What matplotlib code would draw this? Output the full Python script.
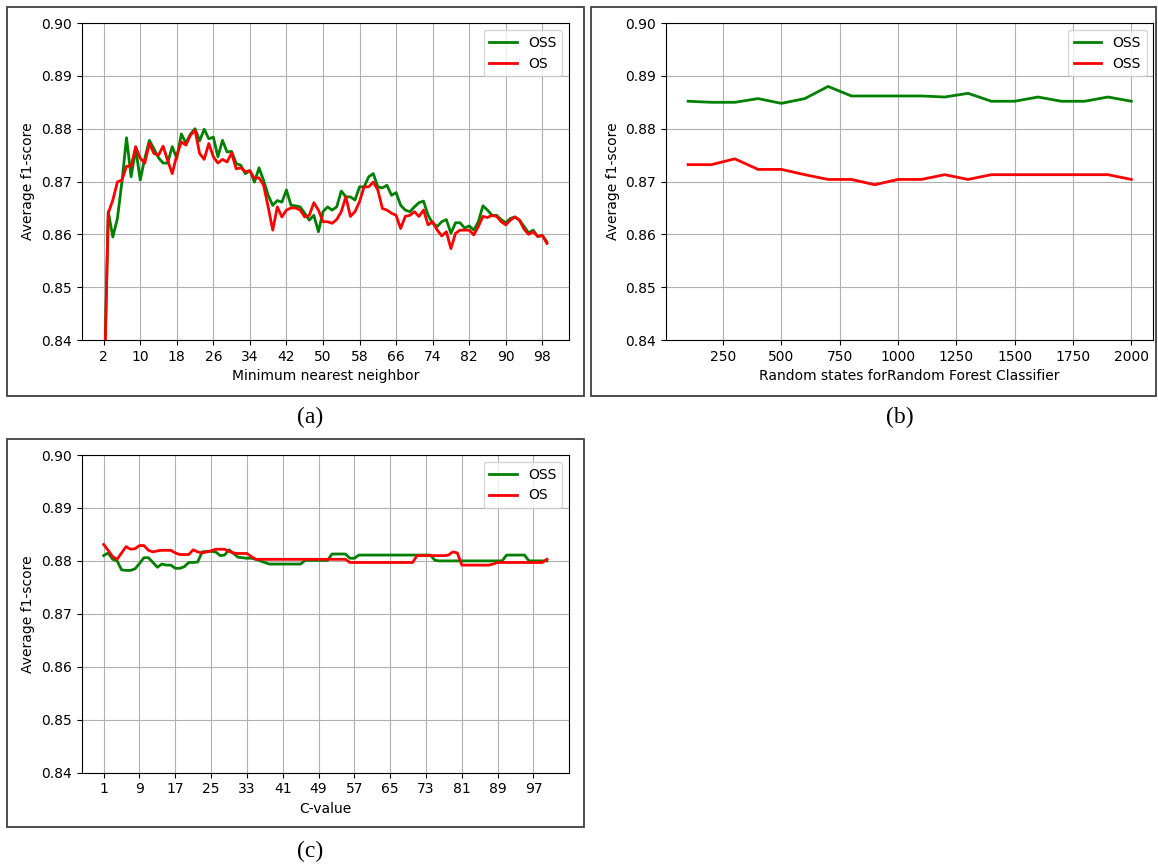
import matplotlib
matplotlib.use("Agg")
import matplotlib.pyplot as plt
from matplotlib.patches import Rectangle

# (a) minimum nearest neighbour
knn_x = list(range(2, 100))
knn_oss = [0.828, 0.8643, 0.8595, 0.8630, 0.8700, 0.8783, 0.8709, 0.8762, 0.8703, 0.8744,
           0.8778, 0.8762, 0.8745, 0.8735, 0.8735, 0.8766, 0.8744, 0.8790, 0.8773, 0.8790,
           0.8800, 0.8777, 0.8799, 0.8781, 0.8784, 0.8747, 0.8778, 0.8756, 0.8757, 0.8734,
           0.8731, 0.8715, 0.8721, 0.8699, 0.8726, 0.8702, 0.8674, 0.8655, 0.8664, 0.8661,
           0.8684, 0.8655, 0.8654, 0.8652, 0.8640, 0.8627, 0.8636, 0.8605, 0.8643, 0.8652,
           0.8646, 0.8652, 0.8682, 0.8671, 0.8671, 0.8665, 0.8690, 0.8690, 0.8709, 0.8715,
           0.8690, 0.8688, 0.8693, 0.8674, 0.8679, 0.8655, 0.8646, 0.8643, 0.8652, 0.8660,
           0.8663, 0.8636, 0.8621, 0.8615, 0.8624, 0.8628, 0.8602, 0.8622, 0.8622, 0.8612,
           0.8616, 0.8608, 0.8624, 0.8654, 0.8646, 0.8636, 0.8636, 0.8628, 0.8622, 0.8630,
           0.8633, 0.8627, 0.8615, 0.8603, 0.8608, 0.8596, 0.8598, 0.8586]
knn_os = [0.826, 0.8640, 0.8665, 0.8699, 0.8703, 0.8729, 0.8729, 0.8766, 0.8744, 0.8735,
          0.8772, 0.8753, 0.8750, 0.8767, 0.8740, 0.8715, 0.8750, 0.8775, 0.8769, 0.8788,
          0.8797, 0.8753, 0.8742, 0.8772, 0.8747, 0.8735, 0.8742, 0.8737, 0.8754, 0.8724,
          0.8726, 0.8719, 0.8720, 0.8706, 0.8707, 0.8693, 0.8652, 0.8608, 0.8652, 0.8633,
          0.8646, 0.8650, 0.8650, 0.8646, 0.8633, 0.8636, 0.8660, 0.8646, 0.8624, 0.8624,
          0.8621, 0.8628, 0.8643, 0.8671, 0.8634, 0.8643, 0.8662, 0.8690, 0.8690, 0.8699,
          0.8684, 0.8649, 0.8646, 0.8640, 0.8636, 0.8611, 0.8634, 0.8636, 0.8643, 0.8634,
          0.8646, 0.8618, 0.8624, 0.8608, 0.8597, 0.8605, 0.8573, 0.8602, 0.8608, 0.8608,
          0.8608, 0.8599, 0.8615, 0.8634, 0.8632, 0.8636, 0.8634, 0.8624, 0.8618, 0.8627,
          0.8633, 0.8627, 0.8610, 0.8600, 0.8605, 0.8596, 0.8598, 0.8583]

# (b) random states for the random forest
rs_x = [100, 200, 300, 400, 500, 600, 700, 800, 900, 1000,
        1100, 1200, 1300, 1400, 1500, 1600, 1700, 1800, 1900, 2000]
rs_oss = [0.8852, 0.8850, 0.8850, 0.8857, 0.8848, 0.8857, 0.8880, 0.8862, 0.8862, 0.8862,
          0.8862, 0.8860, 0.8867, 0.8852, 0.8852, 0.8860, 0.8852, 0.8852, 0.8860, 0.8852]
rs_os = [0.8732, 0.8732, 0.8743, 0.8723, 0.8723, 0.8713, 0.8704, 0.8704, 0.8694, 0.8704,
         0.8704, 0.8713, 0.8704, 0.8713, 0.8713, 0.8713, 0.8713, 0.8713, 0.8713, 0.8704]

# (c) C-value
c_x = list(range(1, 101))
c_oss = [0.8810, 0.8815, 0.8803, 0.8800, 0.8783, 0.8782, 0.8782, 0.8785, 0.8795, 0.8806,
         0.8806, 0.8797, 0.8788, 0.8794, 0.8792, 0.8792, 0.8786, 0.8786, 0.8789, 0.8797,
         0.8797, 0.8798, 0.8817, 0.8818, 0.8818, 0.8817, 0.8810, 0.8811, 0.8821, 0.8814,
         0.8807, 0.8806, 0.8805, 0.8805, 0.8803, 0.8800, 0.8797, 0.8794, 0.8794, 0.8794,
         0.8794, 0.8794, 0.8794, 0.8794, 0.8794, 0.8801, 0.8801, 0.8801, 0.8801, 0.8801,
         0.8801, 0.8813, 0.8813, 0.8813, 0.8813, 0.8805, 0.8805, 0.8811, 0.8811, 0.8811,
         0.8811, 0.8811, 0.8811, 0.8811, 0.8811, 0.8811, 0.8811, 0.8811, 0.8811, 0.8811,
         0.8811, 0.8811, 0.8811, 0.8811, 0.8801, 0.8800, 0.8800, 0.8800, 0.8800, 0.8800,
         0.8800, 0.8800, 0.8800, 0.8800, 0.8800, 0.8800, 0.8800, 0.8800, 0.8800, 0.8800,
         0.8811, 0.8811, 0.8811, 0.8811, 0.8811, 0.8800, 0.8800, 0.8800, 0.8800, 0.8800]
c_os = [0.8831, 0.8820, 0.8808, 0.8803, 0.8815, 0.8827, 0.8822, 0.8823, 0.8829, 0.8829,
        0.8820, 0.8817, 0.8819, 0.8820, 0.8820, 0.8820, 0.8815, 0.8812, 0.8812, 0.8812,
        0.8821, 0.8817, 0.8815, 0.8817, 0.8819, 0.8822, 0.8822, 0.8822, 0.8818, 0.8815,
        0.8814, 0.8814, 0.8814, 0.8808, 0.8803, 0.8803, 0.8803, 0.8803, 0.8803, 0.8803,
        0.8803, 0.8803, 0.8803, 0.8803, 0.8803, 0.8803, 0.8803, 0.8803, 0.8803, 0.8803,
        0.8803, 0.8803, 0.8803, 0.8803, 0.8803, 0.8797, 0.8797, 0.8797, 0.8797, 0.8797,
        0.8797, 0.8797, 0.8797, 0.8797, 0.8797, 0.8797, 0.8797, 0.8797, 0.8797, 0.8797,
        0.8810, 0.8810, 0.8810, 0.8810, 0.8810, 0.8810, 0.8810, 0.8811, 0.8817, 0.8815,
        0.8792, 0.8792, 0.8792, 0.8792, 0.8792, 0.8792, 0.8792, 0.8794, 0.8797, 0.8797,
        0.8797, 0.8797, 0.8797, 0.8797, 0.8797, 0.8797, 0.8797, 0.8797, 0.8797, 0.8803]

yticks = [0.84, 0.85, 0.86, 0.87, 0.88, 0.89, 0.90]

plt.rcParams.update({"font.size": 10})
fig = plt.figure(figsize=(11.58, 8.67), dpi=100)

W = 0.421
ax_a = fig.add_axes([0.0704, 0.6078, W, 0.3656])
ax_b = fig.add_axes([0.5751, 0.6078, W, 0.3656])
ax_c = fig.add_axes([0.0704, 0.1088, W, 0.3664])

panels = [
    (ax_a, knn_x, knn_oss, knn_os, ["OSS", "OS"], "Minimum nearest neighbor"),
    (ax_b, rs_x, rs_oss, rs_os, ["OSS", "OSS"], "Random states forRandom Forest Classifier"),
    (ax_c, c_x, c_oss, c_os, ["OSS", "OS"], "C-value"),
]

for ax, x, g, r, labels, xlabel in panels:
    ax.plot(x, g, color="green", lw=2, label=labels[0])
    ax.plot(x, r, color="red", lw=2, label=labels[1])
    ax.set_ylim(0.84, 0.90)
    ax.set_yticks(yticks)
    ax.set_yticklabels([f"{v:.2f}" for v in yticks])
    ax.grid(True)
    ax.set_ylabel("Average f1-score")
    ax.set_xlabel(xlabel, labelpad=4)
    ax.legend(loc="upper right")

ax_a.set_xticks(list(range(2, 100, 8)))
ax_c.set_xticks(list(range(1, 101, 8)))

# panel frames and captions
boxes = [(0.0064, 0.5433, 0.4976, 0.4483),
         (0.5104, 0.5433, 0.4879, 0.4483),
         (0.0064, 0.0461, 0.4976, 0.4472)]
for x0, y0, w, h in boxes:
    fig.add_artist(Rectangle((x0, y0), w, h, transform=fig.transFigure,
                             fill=False, edgecolor="#404040", lw=1.3))

cap_font = dict(family="Liberation Serif", fontsize=17, ha="center", va="center")
fig.text(310 / 1158, 1 - 417 / 867, "(a)", **cap_font)
fig.text(900 / 1158, 1 - 417 / 867, "(b)", **cap_font)
fig.text(310 / 1158, 1 - 851 / 867, "(c)", **cap_font)

fig.savefig("out.png", dpi=100)
